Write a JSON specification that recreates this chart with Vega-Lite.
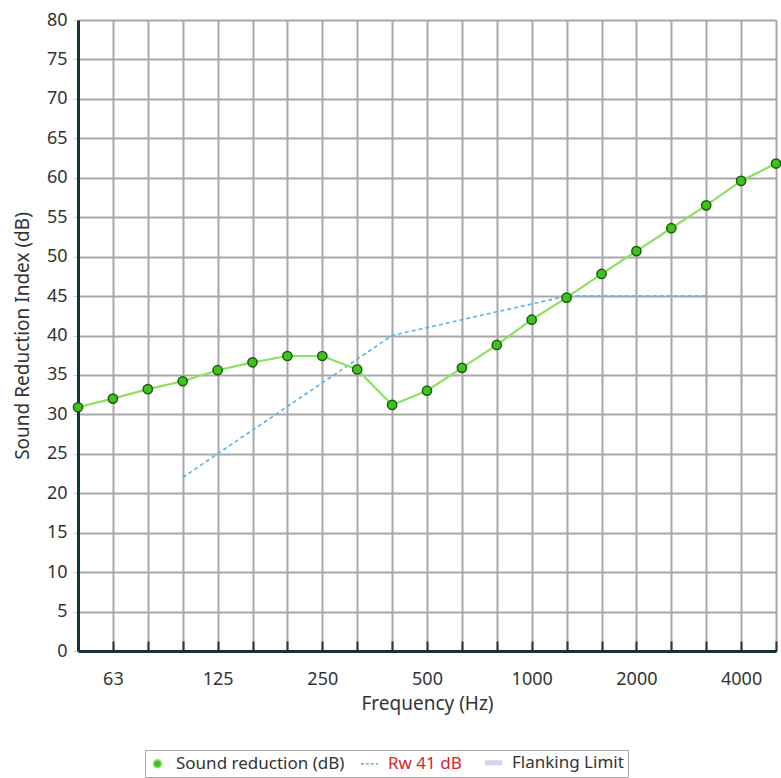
{
  "$schema": "https://vega.github.io/schema/vega-lite/v6.json",
  "width": 698,
  "height": 631,
  "autosize": {"type": "none"},
  "padding": {"left": 78, "top": 20, "right": 5, "bottom": 127},
  "background": "white",
  "config": {
    "font": "Noto Sans",
    "view": {"stroke": null}
  },
  "datasets": {
    "sr": [
      {"freq": "50", "series": "Sound reduction (dB)", "value": 30.9},
      {"freq": "63", "series": "Sound reduction (dB)", "value": 32.0},
      {"freq": "80", "series": "Sound reduction (dB)", "value": 33.2},
      {"freq": "100", "series": "Sound reduction (dB)", "value": 34.2},
      {"freq": "125", "series": "Sound reduction (dB)", "value": 35.6},
      {"freq": "160", "series": "Sound reduction (dB)", "value": 36.6},
      {"freq": "200", "series": "Sound reduction (dB)", "value": 37.4},
      {"freq": "250", "series": "Sound reduction (dB)", "value": 37.4},
      {"freq": "315", "series": "Sound reduction (dB)", "value": 35.7},
      {"freq": "400", "series": "Sound reduction (dB)", "value": 31.2},
      {"freq": "500", "series": "Sound reduction (dB)", "value": 33.0},
      {"freq": "630", "series": "Sound reduction (dB)", "value": 35.9},
      {"freq": "800", "series": "Sound reduction (dB)", "value": 38.8},
      {"freq": "1000", "series": "Sound reduction (dB)", "value": 42.0},
      {"freq": "1250", "series": "Sound reduction (dB)", "value": 44.8},
      {"freq": "1600", "series": "Sound reduction (dB)", "value": 47.8},
      {"freq": "2000", "series": "Sound reduction (dB)", "value": 50.7},
      {"freq": "2500", "series": "Sound reduction (dB)", "value": 53.6},
      {"freq": "3150", "series": "Sound reduction (dB)", "value": 56.5},
      {"freq": "4000", "series": "Sound reduction (dB)", "value": 59.6},
      {"freq": "5000", "series": "Sound reduction (dB)", "value": 61.8}
    ],
    "rw": [
      {"freq": "100", "series": "Rw 41 dB", "value": 22},
      {"freq": "125", "series": "Rw 41 dB", "value": 25},
      {"freq": "160", "series": "Rw 41 dB", "value": 28},
      {"freq": "200", "series": "Rw 41 dB", "value": 31},
      {"freq": "250", "series": "Rw 41 dB", "value": 34},
      {"freq": "315", "series": "Rw 41 dB", "value": 37},
      {"freq": "400", "series": "Rw 41 dB", "value": 40},
      {"freq": "500", "series": "Rw 41 dB", "value": 41},
      {"freq": "630", "series": "Rw 41 dB", "value": 42},
      {"freq": "800", "series": "Rw 41 dB", "value": 43},
      {"freq": "1000", "series": "Rw 41 dB", "value": 44},
      {"freq": "1250", "series": "Rw 41 dB", "value": 45},
      {"freq": "1600", "series": "Rw 41 dB", "value": 45},
      {"freq": "2000", "series": "Rw 41 dB", "value": 45},
      {"freq": "2500", "series": "Rw 41 dB", "value": 45},
      {"freq": "3150", "series": "Rw 41 dB", "value": 45}
    ]
  },
  "encoding": {
    "x": {
      "field": "freq",
      "type": "ordinal",
      "sort": null,
      "scale": {
        "type": "point",
        "padding": 0,
        "domain": ["50","63","80","100","125","160","200","250","315","400","500","630","800","1000","1250","1600","2000","2500","3150","4000","5000"]
      },
      "axis": {
        "title": "Frequency (Hz)",
        "titleFontSize": 19,
        "titleFontWeight": "normal",
        "titleColor": "#333333",
        "titlePadding": 6,
        "labelAngle": 0,
        "labelFontSize": 18,
        "labelColor": "#333333",
        "labelPadding": 29,
        "labelExpr": "indexof(['63','125','250','500','1000','2000','4000'], datum.label) >= 0 ? datum.label : ''",
        "grid": true,
        "gridColor": "#a8a8a8",
        "gridWidth": 2,
        "domainColor": "#17333a",
        "domainWidth": 3,
        "tickColor": "#333333",
        "tickSize": -10,
        "tickWidth": 2
      }
    },
    "y": {
      "field": "value",
      "type": "quantitative",
      "scale": {"domain": [0, 80], "nice": false},
      "axis": {
        "title": "Sound Reduction Index (dB)",
        "titleFontSize": 19,
        "titleFontWeight": "normal",
        "titleColor": "#333333",
        "titlePadding": 14,
        "values": [0,5,10,15,20,25,30,35,40,45,50,55,60,65,70,75,80],
        "labelFontSize": 18,
        "labelColor": "#333333",
        "labelPadding": 6,
        "grid": true,
        "gridColor": "#a8a8a8",
        "gridWidth": 2,
        "domainColor": "#17333a",
        "domainWidth": 3,
        "tickColor": "#cccccc",
        "tickSize": 5
      }
    }
  },
  "layer": [
    {
      "data": {"name": "rw"},
      "mark": {"type": "line", "strokeWidth": 1.6, "strokeDash": [4, 3]},
      "encoding": {
        "color": {
          "field": "series",
          "type": "nominal",
          "scale": {
            "domain": ["Sound reduction (dB)", "Rw 41 dB", "Flanking Limit"],
            "range": ["#8ae25e", "#5ab4e6", "#d2d2f2"]
          },
          "legend": {
            "title": null,
            "orient": "none",
            "direction": "horizontal",
            "legendX": 67,
            "legendY": 730,
            "strokeColor": "#aaaaaa",
            "fillColor": "white",
            "padding": 4,
            "columnPadding": 12,
            "labelOffset": 10,
            "labelLimit": 400,
            "labelFontSize": 17,
            "labelColor": {"expr": "datum.label === 'Rw 41 dB' ? '#e0202a' : '#333333'"},
            "symbolSize": 200,
            "encode": {
              "symbols": {
                "update": {
                  "shape": {"signal": "datum.label === 'Sound reduction (dB)' ? 'circle' : 'stroke'"},
                  "size": {"signal": "datum.label === 'Sound reduction (dB)' ? 60 : 300"},
                  "fill": {"signal": "datum.label === 'Sound reduction (dB)' ? '#3cc41a' : 'transparent'"},
                  "stroke": {"signal": "datum.label === 'Sound reduction (dB)' ? '#1e5a14' : (datum.label === 'Rw 41 dB' ? '#5ab4e6' : '#d2d2f2')"},
                  "strokeWidth": {"signal": "datum.label === 'Flanking Limit' ? 5 : 1.6"},
                  "strokeDash": {"signal": "datum.label === 'Rw 41 dB' ? [3, 2] : [1, 0]"},
                  "opacity": {"value": 1}
                }
              }
            }
          }
        }
      }
    },
    {
      "data": {"name": "sr"},
      "mark": {"type": "line", "strokeWidth": 2.2},
      "encoding": {
        "color": {"field": "series", "type": "nominal"}
      }
    },
    {
      "data": {"name": "sr"},
      "mark": {"type": "point", "filled": true, "fill": "#3cc41a", "stroke": "#1e5a14", "strokeWidth": 1.5, "size": 85, "opacity": 1, "fillOpacity": 1}
    }
  ]
}
